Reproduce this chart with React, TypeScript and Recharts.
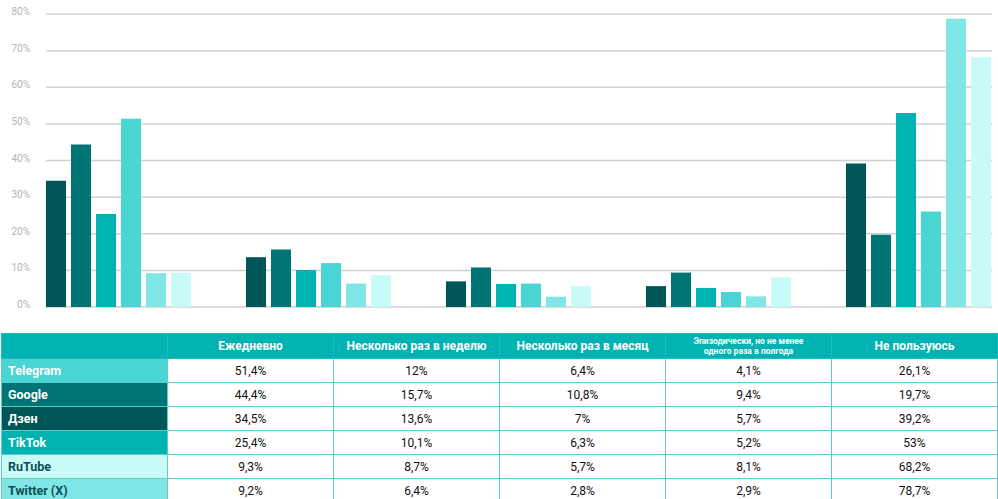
import { BarChart, Bar, XAxis, YAxis, CartesianGrid } from 'recharts';

const categories = [
  'Ежедневно',
  'Несколько раз в неделю',
  'Несколько раз в месяц',
  'Эпизодически, но не менее одного раза в полгода',
  'Не пользуюсь',
];

const telegram = [51.4, 12, 6.4, 4.1, 26.1];
const google = [44.4, 15.7, 10.8, 9.4, 19.7];
const dzen = [34.5, 13.6, 7, 5.7, 39.2];
const tiktok = [25.4, 10.1, 6.3, 5.2, 53];
const rutube = [9.3, 8.7, 5.7, 8.1, 68.2];
const twitter = [9.2, 6.4, 2.8, 2.9, 78.7];

const yTicks = [0, 10, 20, 30, 40, 50, 60, 70, 80];

// bar order in each group, left to right
const barSeries = [
  { key: 'dzen', color: '#005557' },
  { key: 'google', color: '#007575' },
  { key: 'tiktok', color: '#00b2b2' },
  { key: 'telegram', color: '#4ad5d5' },
  { key: 'twitter', color: '#80e6e6' },
  { key: 'rutube', color: '#c8faf8' },
];

// table row order
const tableRows = [
  { name: 'Telegram', values: telegram, bg: '#4ad5d5', fg: '#ffffff' },
  { name: 'Google', values: google, bg: '#007575', fg: '#ffffff' },
  { name: 'Дзен', values: dzen, bg: '#005557', fg: '#ffffff' },
  { name: 'TikTok', values: tiktok, bg: '#00b2b2', fg: '#ffffff' },
  { name: 'RuTube', values: rutube, bg: '#c8faf8', fg: '#0d4f55' },
  { name: 'Twitter (X)', values: twitter, bg: '#80e6e6', fg: '#0d4f55' },
];

const data = categories.map((name, i) => ({
  name,
  telegram: telegram[i],
  google: google[i],
  dzen: dzen[i],
  tiktok: tiktok[i],
  rutube: rutube[i],
  twitter: twitter[i],
}));

const fmt = (v: number) => String(v).replace('.', ',') + '%';

const YTick = ({ y, payload }: any) => (
  <text x={30} y={y} dy={1} textAnchor="end" fill="#b3b3b3" fontSize={10} fontFamily="Roboto">
    {payload.value}%
  </text>
);

const border = '1px solid #5ccccc';

export default function App() {
  return (
    <div style={{ position: 'absolute', left: 0, top: 0, width: 998, height: 499, background: '#fff', fontFamily: 'Roboto, sans-serif', overflow: 'hidden' }}>
      <BarChart
        width={998}
        height={310}
        data={data}
        margin={{ top: 14, right: 6, left: 0, bottom: 3 }}
        barCategoryGap={27}
        barGap={5}
      >
        <CartesianGrid vertical={false} stroke="#d0d0d0" strokeWidth={1.5} />
        <XAxis dataKey="name" hide padding={{ left: -27, right: -27 }} />
        <YAxis
          width={46}
          domain={[0, 80]}
          ticks={yTicks}
          interval={0}
          axisLine={false}
          tickLine={false}
          tick={<YTick />}
        />
        {barSeries.map(s => (
          <Bar key={s.key} dataKey={s.key} fill={s.color} isAnimationActive={false} />
        ))}
      </BarChart>

      <table
        style={{
          position: 'absolute',
          left: 1,
          top: 333,
          width: 997,
          borderCollapse: 'collapse',
          tableLayout: 'fixed',
          fontSize: 12,
        }}
      >
        <colgroup>
          <col style={{ width: 166 }} />
          {categories.map(c => (
            <col key={c} style={{ width: 166 }} />
          ))}
        </colgroup>
        <thead>
          <tr style={{ height: 25 }}>
            <th style={{ background: '#00b2b2', border: '1px solid #20bcbc' }} />
            {categories.map((c, i) => (
              <th
                key={c}
                style={{
                  background: '#00b2b2',
                  color: '#fff',
                  border: '1px solid #20bcbc',
                  fontWeight: 700,
                  fontSize: i === 3 ? 8.5 : 12,
                  lineHeight: i === 3 ? '10px' : '14px',
                  padding: i === 3 ? '0 25px' : 0,
                }}
              >
                {c}
              </th>
            ))}
          </tr>
        </thead>
        <tbody>
          {tableRows.map(r => (
            <tr key={r.name} style={{ height: 24 }}>
              <td
                style={{
                  background: r.bg,
                  color: r.fg,
                  fontWeight: 700,
                  paddingLeft: 6,
                  border,
                  fontSize: 12.5,
                }}
              >
                {r.name}
              </td>
              {r.values.map((v, i) => (
                <td key={i} style={{ textAlign: 'center', color: '#111', border, padding: 0 }}>
                  {fmt(v)}
                </td>
              ))}
            </tr>
          ))}
        </tbody>
      </table>
    </div>
  );
}
